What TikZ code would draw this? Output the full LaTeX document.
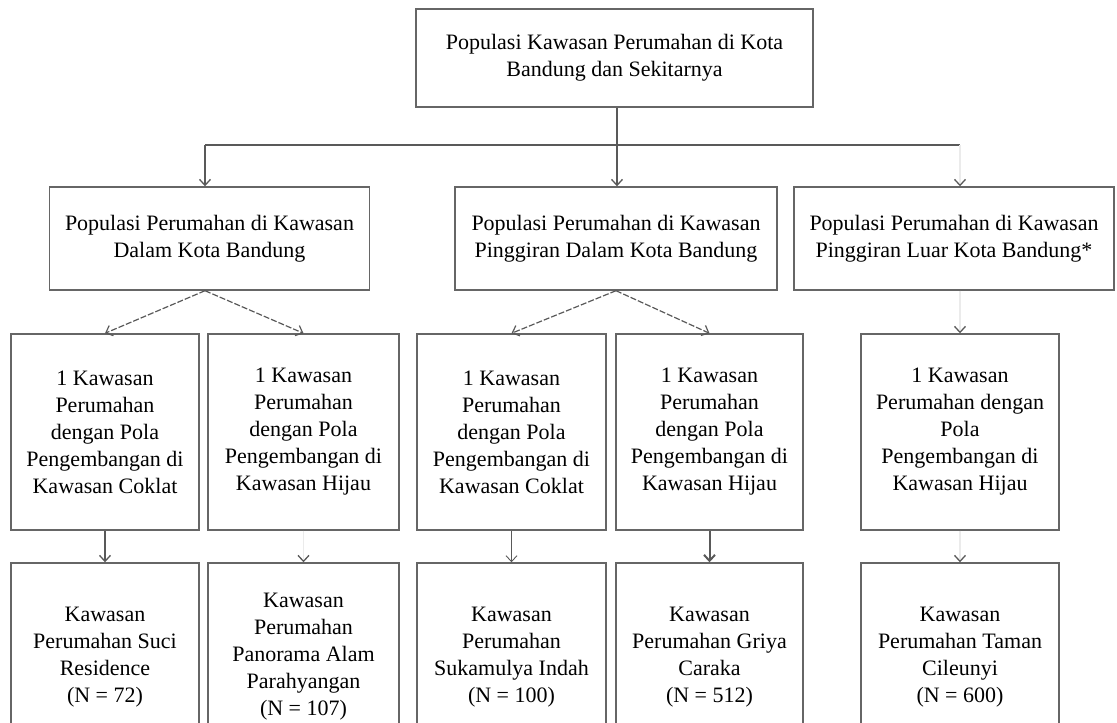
\documentclass[tikz,border=0pt]{standalone}
\usepackage{fontspec}
\setmainfont{Liberation Serif}
\usetikzlibrary{arrows.meta}

\begin{document}
\begin{tikzpicture}
		[x=1pt,y=-1pt,
		box/.style={draw=black!60,line width=1.4pt,fill=white,align=center,font=\fontsize{22}{27}\selectfont},
		wide/.style={box,minimum width=320pt,minimum height=103pt},
		tall/.style={box,minimum width=188pt,minimum height=196pt},
		link/.style={draw=black!65,line width=1.3pt,-{Straight Barb[length=6pt,width=11pt]}},
		dashlink/.style={link,line width=1.2pt,dash pattern=on 6pt off 2pt},
		ghost/.style={link,draw=black!8,-{Straight Barb[length=6pt,width=11pt,color=black!65]}}
		]
		\useasboundingbox (0,0) rectangle (1117,723);
		\clip (0,0) rectangle (1117,723);
		
		% top
		\node[box,minimum width=397pt,minimum height=98pt] (pop) at (614.5,58) {Populasi Kawasan Perumahan di Kota\\Bandung dan Sekitarnya};
		
		% level 2
		\node[wide] (dalam) at (209.5,238.5) {Populasi Perumahan di Kawasan\\Dalam Kota Bandung};
		\node[wide,minimum width=322pt] (pdalam) at (616,238.5) {Populasi Perumahan di Kawasan\\Pinggiran Dalam Kota Bandung};
		\node[wide] (pluar) at (954,238.5) {Populasi Perumahan di Kawasan\\Pinggiran Luar Kota Bandung*};
		
		% level 3
		\node[tall] (dcoklat) at (105,432) {1 Kawasan\\Perumahan\\dengan Pola\\Pengembangan di\\Kawasan Coklat};
		\node[tall,minimum width=191pt] (dhijau) at (303.5,432) {1 Kawasan\\Perumahan\\dengan Pola\\Pengembangan di\\Kawasan Hijau};
		\node[tall,minimum width=189pt] (pcoklat) at (511.5,432) {1 Kawasan\\Perumahan\\dengan Pola\\Pengembangan di\\Kawasan Coklat};
		\node[tall,minimum width=187pt] (phijau) at (709.5,432) {1 Kawasan\\Perumahan\\dengan Pola\\Pengembangan di\\Kawasan Hijau};
		\node[tall,minimum width=198pt] (lhijau) at (960,432) {1 Kawasan\\Perumahan dengan\\Pola\\Pengembangan di\\Kawasan Hijau};
		
		% level 4
		\node[tall,minimum height=188pt] (suci) at (105,657) {Kawasan\\Perumahan Suci\\Residence\\(N = 72)};
		\node[tall,minimum width=191pt,minimum height=188pt] (panorama) at (303.5,657) {Kawasan\\Perumahan\\Panorama Alam\\Parahyangan\\(N = 107)};
		\node[tall,minimum width=189pt,minimum height=188pt] (sukamulya) at (511.5,657) {Kawasan\\Perumahan\\Sukamulya Indah\\(N = 100)};
		\node[tall,minimum width=187pt,minimum height=188pt] (griya) at (709.5,657) {Kawasan\\Perumahan Griya\\Caraka\\(N = 512)};
		\node[tall,minimum width=198pt,minimum height=188pt] (taman) at (960,657) {Kawasan\\Perumahan Taman\\Cileunyi\\(N = 600)};
		
		% connectors
		\coordinate (hl) at (205,145);
		\coordinate (hr) at (960,145);
		\draw[link] ([xshift=2.5pt]pop.south) -- ([xshift=2.5pt]pop.south |- pdalam.north);
		\draw[link,-] (hl) -- (hr);
		\draw[link] (hl) -- (hl |- dalam.north);
		\draw[ghost] (hr) -- (hr |- pluar.north);
		
		\draw[dashlink] ([xshift=-4.5pt]dalam.south) -- (dcoklat.north);
		\draw[dashlink] ([xshift=-4.5pt]dalam.south) -- (dhijau.north);
		\draw[dashlink] (pdalam.south) -- (pcoklat.north);
		\draw[dashlink] (pdalam.south) -- (phijau.north);
		\draw[ghost] (pluar.south -| lhijau.north) -- (lhijau.north);
		
		\draw[link] (dcoklat) -- (suci);
		\draw[ghost] (dhijau) -- (panorama);
		\draw[link,line width=0.9pt] (pcoklat) -- (sukamulya);
		\draw[link,line width=2pt] (phijau) -- (griya);
		\draw[ghost] (lhijau) -- (taman);
	\end{tikzpicture}
\end{document}
